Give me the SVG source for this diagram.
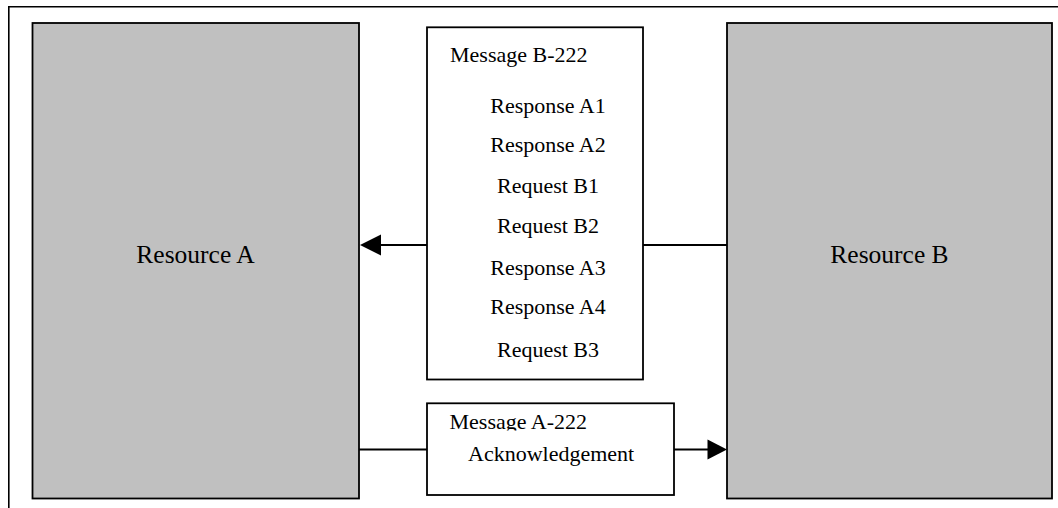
<svg xmlns="http://www.w3.org/2000/svg" width="1058" height="508" viewBox="0 0 1058 508">
  <defs>
    <style>
      .frame { fill: none; stroke: #000; stroke-width: 1.6; }
      .res { fill: #c0c0c0; stroke: #000; stroke-width: 1.8; }
      .box { fill: #fff; stroke: #000; stroke-width: 1.8; }
      .conn { fill: none; stroke: #000; stroke-width: 1.8; }
      .head { fill: #000; stroke: none; }
      text { font-family: "Liberation Serif", "Times New Roman", serif; fill: #000; }
      .big { font-size: 25.5px; text-anchor: middle; }
      .item { font-size: 22px; }
      .mid { text-anchor: middle; }
    </style>
    <clipPath id="clipA">
      <rect x="427" y="400" width="247" height="30.5"/>
    </clipPath>
  </defs>
  <rect width="1058" height="508" fill="#fff"/>
  <g id="frame">
    <path class="frame" d="M8.8,510 V6.8 H1060"/>
  </g>
  <g id="resource-a">
    <rect class="res" x="32.5" y="23" width="326.5" height="475.5"/>
    <text class="big" x="195.5" y="263">Resource A</text>
  </g>
  <g id="resource-b">
    <rect class="res" x="727" y="23" width="325" height="475.5"/>
    <text class="big" x="889.5" y="263">Resource B</text>
  </g>
  <g id="connectors">
    <line class="conn" x1="427" y1="245" x2="378" y2="245"/>
    <polygon class="head" points="360,245 381,234.5 381,255.5"/>
    <line class="conn" x1="643" y1="245" x2="727" y2="245"/>
    <line class="conn" x1="359" y1="449.5" x2="427" y2="449.5"/>
    <line class="conn" x1="674" y1="449.5" x2="710" y2="449.5"/>
    <polygon class="head" points="727,449.5 707.5,439.5 707.5,459.5"/>
  </g>
  <g id="message-b">
    <rect class="box" x="427" y="27.3" width="216" height="352.2"/>
    <text class="item" x="450" y="62">Message B-222</text>
    <text class="item mid" x="548" y="113">Response A1</text>
    <text class="item mid" x="548" y="152">Response A2</text>
    <text class="item mid" x="548" y="193">Request B1</text>
    <text class="item mid" x="548" y="233">Request B2</text>
    <text class="item mid" x="548" y="275">Response A3</text>
    <text class="item mid" x="548" y="314">Response A4</text>
    <text class="item mid" x="548" y="357">Request B3</text>
  </g>
  <g id="message-a">
    <rect class="box" x="427" y="403.3" width="247" height="91.7"/>
    <text class="item" x="449.5" y="428.5" clip-path="url(#clipA)">Message A-222</text>
    <text class="item" x="468" y="461">Acknowledgement</text>
  </g>
</svg>
